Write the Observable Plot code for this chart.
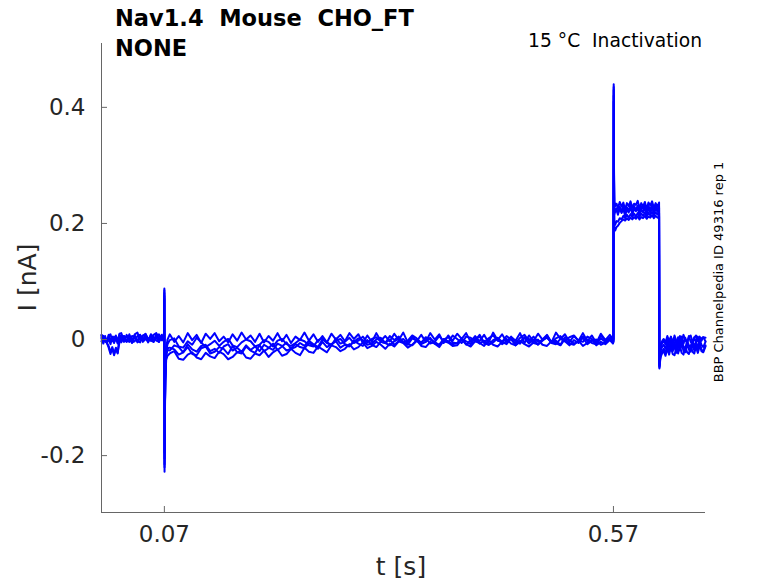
<!DOCTYPE html>
<html><head><meta charset="utf-8">
<script src="https://cdn.jsdelivr.net/npm/d3@7"></script>
<script src="https://cdn.jsdelivr.net/npm/@observablehq/plot@0.6"></script>
<style>
html,body{margin:0;padding:0;background:#fff;}
#chart svg text{white-space:pre;}
</style></head><body><div id="chart"></div>
<script>
// sample times (ms)
const timeMs = [
  0,2,4,6,8,10,12,14,16,18,20,22,25,28,31,34,37,40,43,46,49,52,55,58,61,64,67,69,
  69.8,70.0,70.2,70.5,71.0,72.0,73.5,
  76,81,86,91,96,101,106,111,116,121,126,131,136,141,146,151,156,161,166,171,176,181,186,191,196,201,206,211,216,221,226,231,236,241,246,251,256,261,266,271,276,281,286,291,296,301,306,311,316,321,326,331,336,341,346,351,356,361,366,371,376,381,386,391,396,401,406,411,416,421,426,431,436,441,446,451,456,461,466,471,476,481,486,491,496,501,506,511,516,521,526,531,536,541,546,551,556,561,566,569.5,
  570.0,570.3,570.6,571.0,572.0,573.5,575,577,579,581,583,585,587,589,591,593,595,597,599,601,603,605,607,609,611,613,615,617,619,620.8,
  621.2,621.6,622.2,623,624.5,626,628,630,632,634,636,638,640,642,644,646,648,650,652,654,656,658,660,662,664,666,668,670,672.5
];
// sweep currents (pA)
const trace1 = [
  7,-4,6,-5,8,-3,5,-6,7,-2, 8,-4,6,-3,9,-2,7,-5,8,-1, 9,-3,6,-4,10,-1,8,-2,
  6,88,-228,-140,-60,-15,0,
  9,-4,6,-5,11,-1,8,-6,10,1, 11,-3,5,-5,9,-2,12,0,7,-4, 10,-5,6,-2,11,-3,8,-6,5,-1, 12,-2,9,-4,6,-5,10,0,8,-3, 11,1,9,-6,7,-4,11,-2,6,-3,
  10,-1,12,-5,5,-3,8,-4,11,0, 9,-6,7,-2,10,1,11,-4,6,-3, 8,-5,12,-1,9,-4,5,-2,11,-6, 7,-3,10,0,8,-5,12,1,9,-4, 6,-2,11,-3,7,-6,10,-1,8,0,
  2,440,300,238,230,234, 226,237,229,236,224,235,230,238,227,234, 232,239,226,235,229,237,225,236,231,238, 227,235,229,236,
  -48,-30,-18,-12,-6,-2, -8,3,-6,4,-7,2,-8,4,-5,5, -7,3,-6,6,-4,-8,4,-5,5,-7, 2,4,-3
];
const trace2 = [
  4,6,-3,-6,-14,-25,-15,-27,-16,-24, 5,7,-4,-2,3,-5,-3,6,8,-4, 1,-3,9,4,-2,-4,7,2,
  4,80,-215,-135,-65,-22,-8,
  -1,2,-12,-14,-3,-9,3,-5,-13,-8, -2,-11,-4,1,-10,-13,-5,0,-3,-12, -9,-1,-4,-12,-2,1,-8,-11,-6,0, -3,-10,-12,-1,2,-6,-9,-2,1,-8, -11,-4,2,-1,-9,-7,0,3,-6,-10,
  -3,1,-5,-9,2,-2,-8,-4,3,-7, -9,0,4,-5,-7,1,-3,-8,2,5, -6,-9,-1,3,-4,-8,2,-2,-7,4, 1,-6,-8,0,3,-5,-2,-9,4,-1, -7,-3,5,0,-6,-8,2,-4,3,-5,
  -1,430,280,226,220,224, 215,226,218,225,213,224,219,228,216,225, 221,227,214,224,219,228,216,226,218,229, 217,225,220,227,
  -45,-34,-24,-17,-12,-9, -16,-3,-13,-2,-14,-5,-15,-3,-12,0, -13,-16,-2,-10,-14,-1,-12,-4,-15,0, -9,-13,-4
];
const trace3 = [
  2,-7,3,-6,1,-8,4,-5,2,-7, 3,-5,6,-4,2,-6,5,-3,7,-2, 4,-5,8,-1,3,-4,6,-2,
  3,75,-205,-130,-70,-28,-18,
  -19,-10,-13,-22,-8,-17,-21,-11,-9,-20, -16,-23,-12,-8,-19,-14,-21,-10,-18,-12, -20,-9,-14,-18,-7,-11,-19,-16,-8,-13, -15,-6,-10,-16,-4,-13,-8,-3,-14,-9, -12,-2,-7,-11,-1,-9,-13,-4,-6,0,
  -9,-3,1,-8,-10,-2,-5,2,-7,-4, -10,1,-3,-8,-6,2,-9,-1,3,-7, -2,-9,-5,2,-8,-3,1,-10,-4,3, -7,0,-9,-2,4,-6,-8,1,-3,-10, -1,-6,3,-8,-2,0,-9,-5,2,-6,
  -4,420,250,200,198,204, 203,209,207,213,209,215,210,216,211,217, 212,218,211,217,213,219,212,218,214,220, 213,219,215,218,
  -50,-40,-30,-24,-19,-16, -24,-10,-21,-8,-20,-11,-23,-9,-19,-6, -20,-22,-8,-17,-21,-7,-19,-9,-22,-6, -17,-20,-10
];
const trace4 = [
  -3,5,4,-6,-11,-22,-13,-25,-14,-23, -5,3,4,-2,-4,6,5,-3,-5,7, 8,2,-2,-4,5,9,-1,3,
  2,70,-195,-125,-72,-35,-28,
  -24,-20,-33,-35,-26,-22,-31,-34,-23,-29, -32,-21,-25,-34,-30,-22,-20,-31,-33,-24, -27,-19,-30,-22,-17,-28,-25,-16,-23,-27, -14,-21,-23,-12,-17,-22,-10,-13,-20,-16, -8,-17,-13,-5,-15,-11,-4,-9,-16,-7,
  -12,-3,-6,-14,-9,-1,-11,-13,-4,-7, -13,-2,-5,-11,-10,0,-8,-12,-3,-6, -11,-1,-9,-12,-4,1,-7,-10,-2,-8, -12,-5,0,-9,-11,-3,-6,-10,1,-7, -9,-2,-11,-6,0,-10,-4,-8,-1,-7,
  -3,410,240,190,188,194, 196,201,204,207,205,209,206,210,207,211, 208,212,207,211,209,213,208,212,210,214, 209,213,210,212,
  -46,-42,-34,-28,-23,-20, -28,-15,-26,-13,-25,-27,-14,-24,-11,-23, -26,-12,-22,-25,-10,-21,-24,-11,-23,-9, -20,-22,-12
];
const trace5 = [
  8,6,-2,-4,7,9,-3,5,-1,-4, 10,11,-2,8,0,-3,9,12,-1,6, 10,0,-2,8,11,1,-1,9,
  7,85,-220,-145,-75,-25,-15,
  -14,-17,-26,-22,-13,-25,-27,-15,-12,-24, -21,-13,-16,-25,-11,-22,-24,-12,-19,-23, -10,-20,-15,-7,-18,-12,-5,-16,-13,-6, -11,-2,-8,-13,0,-5,-10,2,-7,-4, 3,-6,-2,5,-5,1,4,-4,-6,6,
  -1,5,-5,-2,7,2,-6,4,0,-4, 6,-3,-5,7,1,-6,5,3,-2,8, -5,2,7,-2,-4,6,0,-6,3,8, -3,5,-4,-1,7,-5,2,6,-3,4, 7,-2,-4,5,1,-5,6,-1,3,-2,
  0,435,290,216,222,226, 217,229,220,231,218,228,222,232,219,230, 223,231,218,229,225,232,220,230,224,233, 221,230,224,229,
  -42,-26,-14,-7,-2,1, -5,6,-3,5,-6,7,-2,-4,6,-3, 8,-1,-5,4,7,-4,3,7,-3,5, -2,4,3
];
const xTicks = [0.07, 0.57];
const yTicks = [-0.2, 0, 0.2, 0.4];
const titleLines = ["Nav1.4  Mouse  CHO_FT", "NONE"];
const condition = "15 °C  Inactivation";
const sideNote = "BBP Channelpedia ID 49316 rep 1";
const xLabel = "t [s]";
const yLabel = "I [nA]";

const sweeps = [trace1, trace2, trace3, trace4, trace5];
const rows = sweeps.flatMap((vals, k) => vals.map((pA, j) => ({t: timeMs[j] / 1000, I: pA / 1000, sweep: k + 1})));

const xDomain = [0, 0.6725];
const yDomain = [-0.298, 0.51];
const W = 778, H = 583, mL = 101, mR = 73, mT = 43, mB = 71, tickLen = 6;

const chart = Plot.plot({
  width: W, height: H,
  marginLeft: mL, marginRight: mR, marginTop: mT, marginBottom: mB,
  x: {domain: xDomain, label: null},
  y: {domain: yDomain, label: null},
  style: {fontFamily: "DejaVu Sans", background: "#fff", overflow: "visible"},
  marks: [
    Plot.line(rows, {x: "t", y: "I", z: "sweep", stroke: "#0000ff", strokeWidth: 2}),
    Plot.ruleX([xDomain[0]], {stroke: "#666", strokeWidth: 1}),
    Plot.ruleY([yDomain[0]], {stroke: "#666", strokeWidth: 1}),
    Plot.ruleY(yTicks, {stroke: "#666", strokeWidth: 1, insetRight: W - mL - mR - tickLen}),
    Plot.ruleX(xTicks, {stroke: "#666", strokeWidth: 1, insetTop: H - mT - mB - tickLen}),
    Plot.axisY({ticks: yTicks, tickSize: 0, tickPadding: 16, tickFormat: d => String(d), fontSize: 23, color: "#262626", label: null}),
    Plot.axisX({ticks: xTicks, tickSize: 0, tickPadding: 13, tickFormat: d => String(d), fontSize: 23, color: "#262626", label: null})
  ]
});
document.getElementById("chart").appendChild(chart);

const svg = d3.select(chart);
const ann = svg.append("g").attr("font-family", "DejaVu Sans");
ann.append("text").attr("x", 115).attr("y", 26).attr("font-size", 22.5).attr("font-weight", "bold").attr("text-anchor", "start").attr("fill", "#000").text(titleLines[0]);
ann.append("text").attr("x", 115).attr("y", 56).attr("font-size", 22.5).attr("font-weight", "bold").attr("text-anchor", "start").attr("fill", "#000").text(titleLines[1]);
ann.append("text").attr("x", 702).attr("y", 47).attr("font-size", 18.7).attr("text-anchor", "end").attr("fill", "#000").text(condition);
ann.append("text").attr("transform", "translate(718,272) rotate(-90)").attr("dy", "0.35em").attr("font-size", 13).attr("text-anchor", "middle").attr("fill", "#000").text(sideNote);
ann.append("text").attr("transform", "translate(27.5,277.5) rotate(-90)").attr("dy", "0.35em").attr("font-size", 25).attr("text-anchor", "middle").attr("fill", "#262626").text(yLabel);
ann.append("text").attr("x", 401).attr("y", 575).attr("font-size", 25).attr("text-anchor", "middle").attr("fill", "#262626").text(xLabel);
</script>
</body></html>
